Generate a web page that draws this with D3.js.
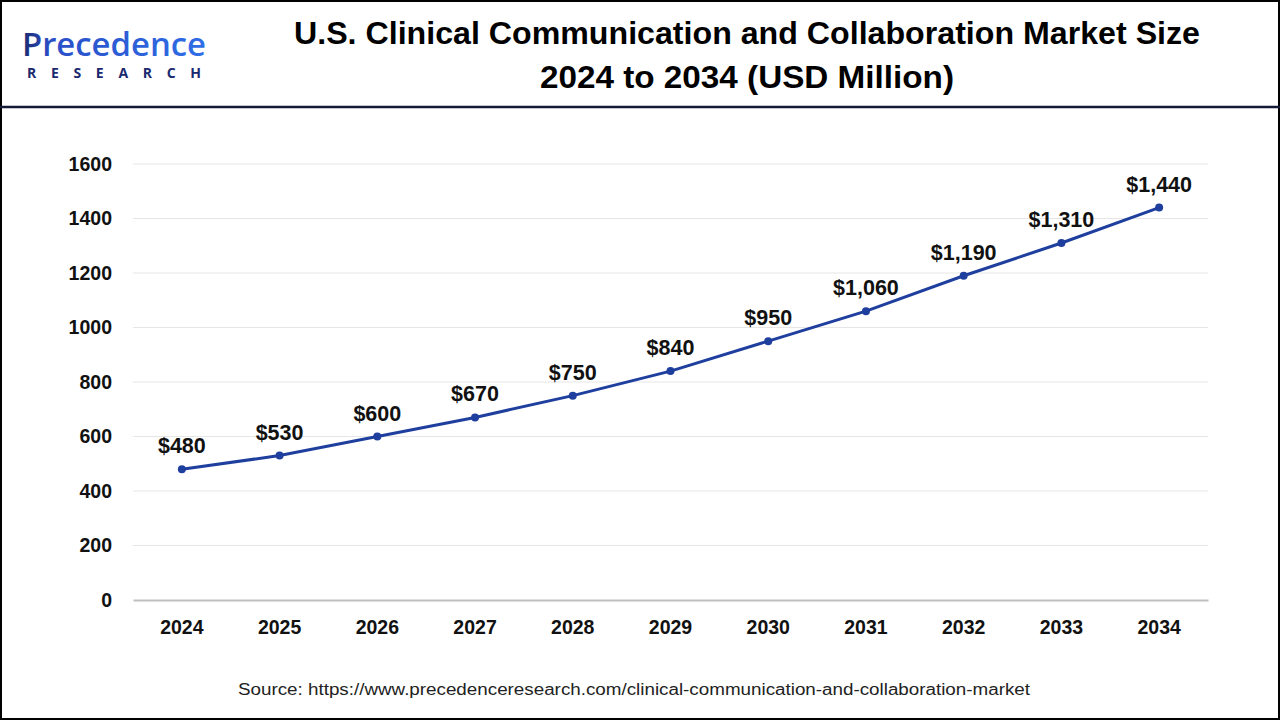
<!DOCTYPE html>
<html>
<head>
<meta charset="utf-8">
<script src="https://cdn.jsdelivr.net/npm/d3@7"></script>
<style>
  html, body { margin: 0; padding: 0; background: #fff; }
  svg { display: block; }
</style>
</head>
<body>
<svg id="chart" width="1280" height="720"></svg>
<script>
const years = ["2024","2025","2026","2027","2028","2029","2030","2031","2032","2033","2034"];
const values = [480, 530, 600, 670, 750, 840, 950, 1060, 1190, 1310, 1440];
const valueLabels = ["$480","$530","$600","$670","$750","$840","$950","$1,060","$1,190","$1,310","$1,440"];
const yTicks = [0, 200, 400, 600, 800, 1000, 1200, 1400, 1600];
const titleLines = ["U.S. Clinical Communication and Collaboration Market Size", "2024 to 2034 (USD Million)"];
const sourceText = "Source: https://www.precedenceresearch.com/clinical-communication-and-collaboration-market";

const svg = d3.select("#chart");
const W = 1280, H = 720;

// Outer border
svg.append("rect").attr("x", 1).attr("y", 1).attr("width", W - 2).attr("height", H - 2)
  .attr("fill", "#fff").attr("stroke", "#000").attr("stroke-width", 2);
// Header separator
svg.append("line").attr("x1", 0).attr("x2", W).attr("y1", 107).attr("y2", 107)
  .attr("stroke", "#141a33").attr("stroke-width", 2.5);

// Logo
const defs = svg.append("defs");
const grad = defs.append("linearGradient").attr("id", "logoGrad").attr("x1", "0").attr("x2", "1");
grad.append("stop").attr("offset", "0").attr("stop-color", "#1b2a6e");
grad.append("stop").attr("offset", "0.15").attr("stop-color", "#2a4fc8");
grad.append("stop").attr("offset", "1").attr("stop-color", "#2f6ee6");
svg.append("text").attr("x", 22).attr("y", 56)
  .attr("font-family", "'Open Sans', 'Noto Sans', sans-serif")
  .attr("font-size", 32).attr("font-weight", 600)
  .attr("fill", "url(#logoGrad)")
  .attr("textLength", 184).attr("lengthAdjust", "spacingAndGlyphs")
  .text("Precedence");
svg.append("text").attr("x", 27).attr("y", 78)
  .attr("font-family", "'Open Sans', 'Noto Sans', sans-serif")
  .attr("font-size", 14).attr("font-weight", 700)
  .attr("fill", "#1b2a6e")
  .attr("textLength", 174).attr("lengthAdjust", "spacing")
  .text("RESEARCH");

// Title
const titleFont = "'Liberation Sans Narrow', 'Liberation Sans', Arial, sans-serif";
svg.append("text").attr("x", 747).attr("y", 44)
  .attr("text-anchor", "middle")
  .attr("font-family", titleFont)
  .attr("font-weight", 700).attr("font-size", 31).attr("fill", "#000")
  .attr("textLength", 906).attr("lengthAdjust", "spacingAndGlyphs")
  .text(titleLines[0]);
svg.append("text").attr("x", 747).attr("y", 88)
  .attr("text-anchor", "middle")
  .attr("font-family", titleFont)
  .attr("font-weight", 700).attr("font-size", 31).attr("fill", "#000")
  .attr("textLength", 414).attr("lengthAdjust", "spacingAndGlyphs")
  .text(titleLines[1]);

// Scales
const x = d3.scaleBand().domain(years).range([133, 1208]).paddingInner(0).paddingOuter(0);
const y = d3.scaleLinear().domain([0, 1600]).range([600, 164]);
const cx = d => x(d) + x.bandwidth() / 2;

// Gridlines
svg.append("g").selectAll("line").data(yTicks.filter(t => t > 0)).join("line")
  .attr("x1", 133).attr("x2", 1208)
  .attr("y1", d => y(d)).attr("y2", d => y(d))
  .attr("stroke", "#e6e6e6").attr("stroke-width", 1);

const labelFont = "'Liberation Sans', Arial, sans-serif";

// Y axis
const yAxis = svg.append("g").attr("transform", "translate(121,0)")
  .call(d3.axisLeft(y).tickValues(yTicks).tickSize(0).tickPadding(9).tickFormat(d3.format("d")));
yAxis.select(".domain").remove();
yAxis.selectAll("text")
  .attr("font-family", labelFont)
  .attr("font-size", 19.5).attr("font-weight", 700).attr("fill", "#111");

// X axis
const xAxis = svg.append("g").attr("transform", "translate(0,600)")
  .call(d3.axisBottom(x).tickSize(0).tickPadding(20));
xAxis.select(".domain").attr("stroke", "#bfbfbf").attr("stroke-width", 2);
xAxis.selectAll("text")
  .attr("font-family", labelFont)
  .attr("font-size", 19.5).attr("font-weight", 700).attr("fill", "#111");

// Line
const data = years.map((yr, i) => ({ yr, v: values[i], label: valueLabels[i] }));
svg.append("path").datum(data)
  .attr("fill", "none").attr("stroke", "#1f3f9e").attr("stroke-width", 3)
  .attr("d", d3.line().x(d => cx(d.yr)).y(d => y(d.v)));

svg.append("g").selectAll("circle").data(data).join("circle")
  .attr("cx", d => cx(d.yr)).attr("cy", d => y(d.v)).attr("r", 4)
  .attr("fill", "#1f3f9e");

svg.append("g").selectAll("text").data(data).join("text")
  .attr("x", d => cx(d.yr)).attr("y", d => y(d.v) - 16)
  .attr("text-anchor", "middle")
  .attr("font-family", labelFont)
  .attr("font-size", 21.5).attr("font-weight", 700).attr("fill", "#111")
  .text(d => d.label);

// Source
svg.append("text").attr("x", 634).attr("y", 695)
  .attr("text-anchor", "middle")
  .attr("font-family", "'Liberation Sans Narrow', 'Liberation Sans', sans-serif")
  .attr("font-size", 16).attr("fill", "#222")
  .attr("textLength", 792).attr("lengthAdjust", "spacingAndGlyphs")
  .text(sourceText);
</script>
</body>
</html>
